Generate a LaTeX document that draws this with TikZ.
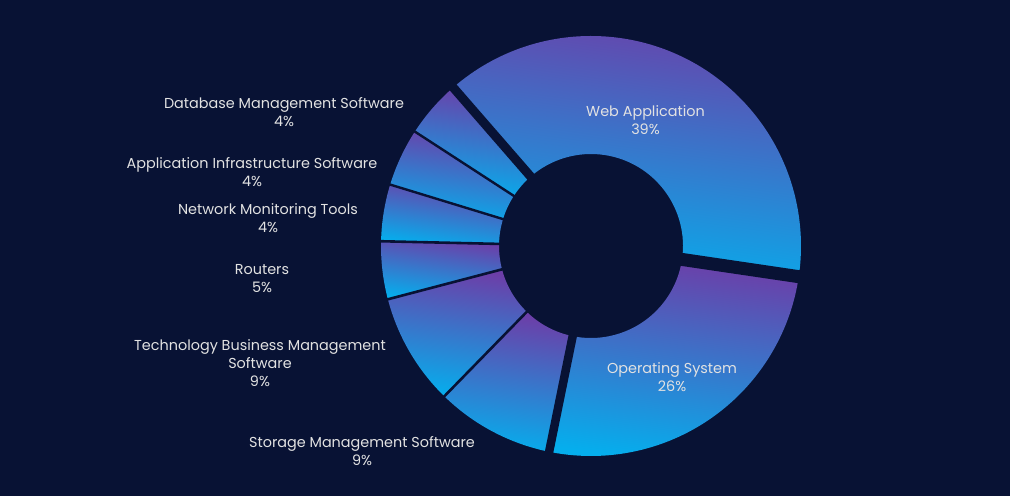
\documentclass[tikz,border=0pt]{standalone}
\usepackage{fontspec}
\setmainfont{Poppins}
\definecolor{bg}{HTML}{081234}
\definecolor{purp}{HTML}{6C3EA8}
\definecolor{cyanc}{HTML}{05AEED}
\definecolor{txt}{HTML}{E2E2E2}
\tikzset{
  slice/.style={top color=purp, bottom color=cyanc, shading angle=-8},
  gapline/.style={draw=bg, line width=#1},
  lbl/.style={text=txt, font=\fontsize{14.4}{18}\selectfont, align=center, inner sep=0pt},
}
\begin{document}
\begin{tikzpicture}[x=1pt,y=1pt]
\fill[bg] (0,0) rectangle (1010,496);
\useasboundingbox (0,0) rectangle (1010,496);
\coordinate (C) at (591,250);
\begin{scope}[shift={(C)}]
  % slices: start/end angles (clockwise)
  \foreach \a/\b in {131/-8.4, -8.4/-101.5, -101.5/-134.3, -134.3/-165.3,
                     -165.3/-181.3, 178.7/163, 163/147, 147/131} {
    \shade[slice] (\a:210) arc[start angle=\a, end angle=\b, radius=210]
      -- (\b:92) arc[start angle=\b, end angle=\a, radius=92] -- cycle;
  }
  % separators
  \foreach \ang/\w in {131/9, -8.4/13, -101.5/8.5, -134.3/2.6, -165.3/2.6,
                       178.7/2.6, 163/2.4, 147/2.4} {
    \draw[gapline=\w] (\ang:86) -- (\ang:216);
  }
\end{scope}
% labels
\node[lbl] (web)  at (645.5,376)  {Web Application\\39\%};
\node[lbl] (os)   at (672,119)    {Operating System\\26\%};
\node[lbl] (db)   at (284,384)    {Database Management Software\\4\%};
\node[lbl] (app)  at (252,323.5)  {Application Infrastructure Software\\4\%};
\node[lbl] (net)  at (268,277.7)  {Network Monitoring Tools\\4\%};
\node[lbl] (rout) at (262,217.3)  {Routers\\5\%};
\node[lbl] (tbm)  at (260,133)    {Technology Business Management\\Software\\9\%};
\node[lbl] (stor) at (362,44.8)   {Storage Management Software\\9\%};
\end{tikzpicture}
\end{document}
